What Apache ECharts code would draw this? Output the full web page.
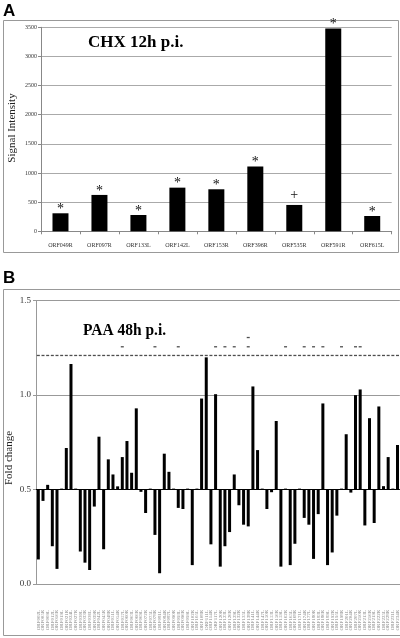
<!DOCTYPE html>
<html>
<head>
<meta charset="utf-8">
<script src="https://cdn.jsdelivr.net/npm/echarts@6/dist/echarts.min.js"></script>
<style>html,body{margin:0;padding:0;background:#fff}#c{width:400px;height:638px}</style>
</head>
<body>
<div id="c"></div>
<script>
// ---- Panel A data ----
const catsA = ['ORF049R','ORF097R','ORF133L','ORF142L','ORF153R','ORF396R','ORF535R','ORF591R','ORF615L'];
const valsA = [309, 624, 280, 749, 721, 1110, 452, 3481, 263];
const marksA = ['*','*','*','*','*','*','+','*','*'];
const ticksA = [0, 500, 1000, 1500, 2000, 2500, 3000, 3500];

// ---- Panel B data ----
const catsB = ['ORF002L','ORF005R','ORF009L','ORF012L','ORF016R','ORF019L','ORF021R','ORF024L','ORF027R','ORF030L',
  'ORF033R','ORF036L','ORF039R','ORF042L','ORF045R','ORF048R','ORF051L','ORF054R','ORF057L','ORF060R',
  'ORF063L','ORF066R','ORF069L','ORF072R','ORF075L','ORF078R','ORF081L','ORF084R','ORF087L','ORF090R',
  'ORF093L','ORF096R','ORF099L','ORF102R','ORF105L','ORF108R','ORF111L','ORF114R','ORF117L','ORF120R',
  'ORF123L','ORF126R','ORF129L','ORF132R','ORF135L','ORF138R','ORF141L','ORF144R','ORF147L','ORF150R',
  'ORF153L','ORF156R','ORF159L','ORF162R','ORF165L','ORF168R','ORF171L','ORF174R','ORF177L','ORF180R',
  'ORF183L','ORF186R','ORF189L','ORF192R','ORF195L','ORF198R','ORF201L','ORF204R','ORF207L','ORF210R',
  'ORF213L','ORF216R','ORF219L','ORF222R','ORF225L','ORF228R','ORF231L','ORF234R'];
const valsB = [0.13,0.44,0.525,0.20,0.08,0.505,0.72,1.165,0.505,0.172,
  0.113,0.074,0.41,0.78,0.184,0.66,0.58,0.517,0.672,0.757,
  0.589,0.93,0.488,0.376,0.505,0.26,0.057,0.69,0.594,0.505,
  0.403,0.397,0.505,0.10,0.505,0.982,1.20,0.21,1.005,0.092,
  0.20,0.275,0.58,0.417,0.314,0.305,1.046,0.709,0.505,0.397,
  0.486,0.863,0.092,0.505,0.10,0.213,0.505,0.35,0.314,0.133,
  0.37,0.956,0.10,0.167,0.362,0.505,0.793,0.484,1.0,1.03,
  0.31,0.878,0.323,0.94,0.518,0.672,0.505,0.736];
const ticksB = [0.0, 0.5, 1.0, 1.5];
const BASE_B = 0.5;               // bars are drawn from the 0.5 baseline
const sigRow2 = [18,25,30,38,40,42,45,53,57,59,61,65,68,69];  // second marker row (bar indices)
const sigRow3 = [45];                                           // third marker row

const serif = '"Liberation Serif","DejaVu Serif",serif';
const sans = '"Liberation Sans",Arial,sans-serif';

const chart = echarts.init(document.getElementById('c'), null, {renderer: 'canvas'});

const row1Data = catsB.map((c, i) => [i, 0.71]);
const row2Data = sigRow2.map(i => [i, 0.756]);
const row3Data = sigRow3.map(i => [i, 0.805]);

const dataA = valsA.map((v, i) => marksA[i] === '+' ? {value: v, label: {distance: 3}} : v);

const option = {
  animation: false,
  backgroundColor: '#fff',
  grid: [
    {left: 41, top: 27.3, width: 350.7, height: 204, containLabel: false},
    {left: 36, top: 300.7, width: 364, height: 283.3, containLabel: false}
  ],
  xAxis: [
    {
      type: 'category', gridIndex: 0, data: catsA,
      axisLine: {lineStyle: {color: '#888', width: 1}},
      axisTick: {show: true, length: 3, lineStyle: {color: '#888'}},
      axisLabel: {fontFamily: serif, fontSize: 6, color: '#333', margin: 11}
    },
    {
      type: 'category', gridIndex: 1, data: catsB,
      axisLine: {onZero: false, lineStyle: {color: '#999', width: 1}},
      axisTick: {show: false},
      axisLabel: {fontFamily: serif, fontSize: 5, color: '#888', rotate: 90, interval: 0, margin: 26}
    }
  ],
  yAxis: [
    {
      type: 'value', gridIndex: 0, min: ticksA[0], max: ticksA[ticksA.length - 1], interval: 500,
      axisLine: {show: true, lineStyle: {color: '#888'}},
      axisTick: {show: true, length: 3, lineStyle: {color: '#888'}},
      axisLabel: {fontFamily: serif, fontSize: 6, color: '#333', margin: 4, formatter: v => String(v)},
      splitLine: {show: true, lineStyle: {color: '#aaa', width: 1}}
    },
    {
      type: 'value', gridIndex: 1, min: ticksB[0] - BASE_B, max: ticksB[ticksB.length - 1] - BASE_B, interval: 0.5,
      axisLine: {show: true, lineStyle: {color: '#999'}},
      axisTick: {show: true, length: 3, lineStyle: {color: '#999'}},
      axisLabel: {fontFamily: serif, fontSize: 9, color: '#333', margin: 5,
        formatter: v => (v + BASE_B).toFixed(1)},
      splitLine: {show: true, lineStyle: {color: '#999', width: 1}}
    }
  ],
  series: [
    {
      type: 'bar', xAxisIndex: 0, yAxisIndex: 0, data: dataA, barWidth: 16,
      itemStyle: {color: '#000'},
      label: {show: true, position: 'top', distance: -3, fontFamily: serif, fontSize: 14, color: '#111',
        formatter: p => marksA[p.dataIndex]}
    },
    {
      type: 'bar', xAxisIndex: 1, yAxisIndex: 1, data: valsB.map(v => +(v - BASE_B).toFixed(3)), barWidth: 3,
      itemStyle: {color: '#000'},
      markLine: {silent: true, symbol: 'none', label: {show: false},
        lineStyle: {color: '#000', width: 1, type: 'solid'}, data: [{yAxis: 0}]}
    },
    {type: 'scatter', xAxisIndex: 1, yAxisIndex: 1, data: row1Data, symbol: 'rect', symbolSize: [3, 1.3],
      itemStyle: {color: '#222'}},
    {type: 'scatter', xAxisIndex: 1, yAxisIndex: 1, data: row2Data, symbol: 'rect', symbolSize: [3, 1.3],
      itemStyle: {color: '#222'}},
    {type: 'scatter', xAxisIndex: 1, yAxisIndex: 1, data: row3Data, symbol: 'rect', symbolSize: [3, 1.3],
      itemStyle: {color: '#222'}}
  ],
  graphic: [
    {type: 'rect', shape: {x: 3.5, y: 20.5, width: 395, height: 232}, style: {fill: null, stroke: '#999', lineWidth: 1}, silent: true},
    {type: 'rect', shape: {x: 3.5, y: 289.5, width: 402, height: 346}, style: {fill: null, stroke: '#999', lineWidth: 1}, silent: true},
    {type: 'text', x: 3, y: 3, style: {text: 'A', font: 'bold 17px ' + sans, fill: '#000'}},
    {type: 'text', x: 3, y: 270, style: {text: 'B', font: 'bold 17px ' + sans, fill: '#000'}},
    {type: 'text', x: 88, y: 43, style: {text: 'CHX 12h p.i.', font: 'bold 17px ' + serif, fill: '#000', verticalAlign: 'middle'}},
    {type: 'text', x: 83, y: 331, scaleX: 0.91, style: {text: 'PAA 48h p.i.', font: 'bold 17px ' + serif, fill: '#000', verticalAlign: 'middle'}},
    {type: 'text', x: 12, y: 128, rotation: Math.PI / 2, style: {text: 'Signal Intensity', font: '11px ' + serif, fill: '#222', align: 'center', verticalAlign: 'middle'}},
    {type: 'text', x: 9, y: 458, rotation: Math.PI / 2, style: {text: 'Fold change', font: '11px ' + serif, fill: '#222', align: 'center', verticalAlign: 'middle'}}
  ]
};
chart.setOption(option);
</script>
</body>
</html>
